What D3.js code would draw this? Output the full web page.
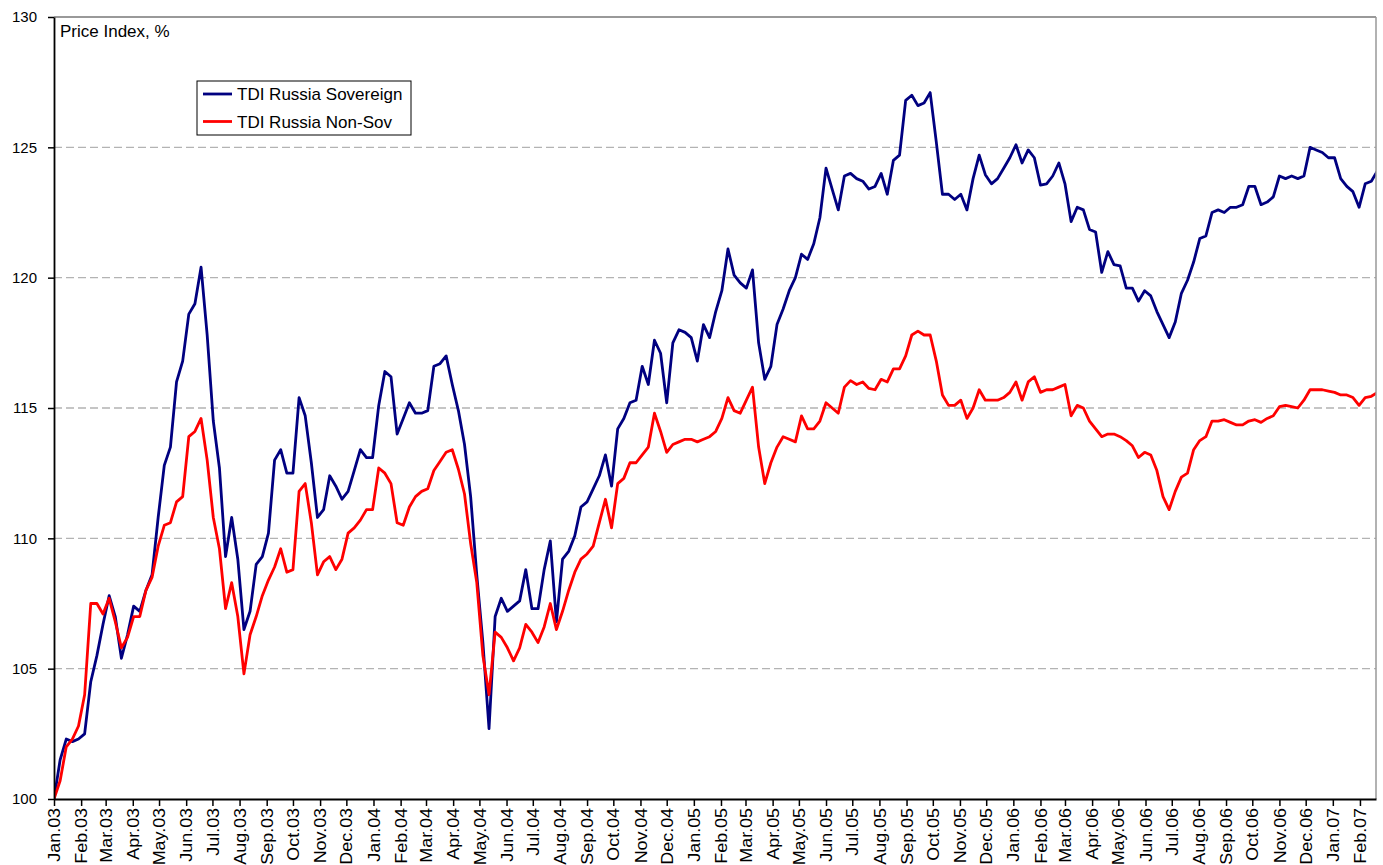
<!DOCTYPE html>
<html>
<head>
<meta charset="utf-8">
<script src="https://cdn.jsdelivr.net/npm/d3@7"></script>
<style>
    body { margin: 0; background: #fff; }
    text { font-family: Arial, "Liberation Sans", sans-serif; fill: #000; }
</style>
</head>
<body>
<div class="chart-container"></div>
<script>
// weekly closes, first point = 1 Jan 2003
var startDate = new Date(2003, 0, 1);
var endDate = new Date(2007, 1, 19, 8);
var seriesNames = ['TDI Russia Sovereign', 'TDI Russia Non-Sov'];
var seriesColors = ['#000080', '#ff0000'];
var yTicks = [100, 105, 110, 115, 120, 125, 130];

var sovereign = [
    100.0, 101.5, 102.3, 102.2, 102.3, 102.5, 104.5, 105.5, 106.7, 107.8,
    107.0, 105.4, 106.3, 107.4, 107.2, 108.0, 108.6, 110.8, 112.8, 113.5,
    116.0, 116.8, 118.6, 119.0, 120.4, 117.8, 114.5, 112.7, 109.3, 110.8,
    109.2, 106.5, 107.2, 109.0, 109.3, 110.2, 113.0, 113.4, 112.5, 112.5,
    115.4, 114.7, 112.9, 110.8, 111.1, 112.4, 112.0, 111.5, 111.8, 112.6,
    113.4, 113.1, 113.1, 115.1, 116.4, 116.2, 114.0, 114.6, 115.2, 114.8,
    114.8, 114.9, 116.6, 116.7, 117.0, 115.9, 114.9, 113.6, 111.6, 108.6,
    106.0, 102.7, 107.0, 107.7, 107.2, 107.4, 107.6, 108.8, 107.3, 107.3,
    108.8, 109.9, 106.8, 109.2, 109.5, 110.1, 111.2, 111.4, 111.9, 112.4,
    113.2, 112.0, 114.2, 114.6, 115.2, 115.3, 116.6, 115.9, 117.6, 117.1,
    115.2, 117.5, 118.0, 117.9, 117.7, 116.8, 118.2, 117.7, 118.7, 119.5,
    121.1, 120.1, 119.8, 119.6, 120.3, 117.5, 116.1, 116.6, 118.2, 118.8,
    119.5, 120.0, 120.9, 120.7, 121.3, 122.3, 124.2, 123.4, 122.6, 123.9,
    124.0, 123.8, 123.7, 123.4, 123.5, 124.0, 123.2, 124.5, 124.7, 126.8,
    127.0, 126.6, 126.7, 127.1, 125.2, 123.2, 123.2, 123.0, 123.2, 122.6,
    123.8, 124.7, 123.95, 123.6, 123.8, 124.2, 124.6, 125.1, 124.4, 124.9,
    124.6, 123.55, 123.6, 123.9, 124.4, 123.6, 122.15, 122.7, 122.6, 121.85,
    121.75, 120.2, 121.0, 120.5, 120.45, 119.6, 119.6, 119.1, 119.5, 119.3,
    118.7, 118.2, 117.7, 118.3, 119.4, 119.9, 120.6, 121.5, 121.6, 122.5,
    122.6, 122.5, 122.7, 122.7, 122.8, 123.5, 123.5, 122.8, 122.9, 123.1,
    123.9, 123.8, 123.9, 123.8, 123.9, 125.0, 124.9, 124.8, 124.6, 124.6,
    123.8, 123.5, 123.3, 122.7, 123.6, 123.7, 124.1
];

var nonSov = [
    100.0, 100.7, 102.0, 102.3, 102.8, 104.0, 107.5, 107.5, 107.1, 107.7,
    106.8, 105.8, 106.2, 107.0, 107.0, 108.0, 108.5, 109.7, 110.5, 110.6,
    111.4, 111.6, 113.9, 114.1, 114.6, 113.0, 110.8, 109.6, 107.3, 108.3,
    107.0, 104.8, 106.3, 107.0, 107.8, 108.4, 108.9, 109.6, 108.7, 108.8,
    111.8, 112.1, 110.6, 108.6, 109.1, 109.3, 108.8, 109.2, 110.2, 110.4,
    110.7, 111.1, 111.1, 112.7, 112.5, 112.1, 110.6, 110.5, 111.2, 111.6,
    111.8, 111.9, 112.6, 112.95, 113.3, 113.4, 112.65, 111.7, 109.8, 108.3,
    105.5, 104.0, 106.4, 106.2, 105.8, 105.3, 105.8, 106.7, 106.4, 106.0,
    106.6, 107.5, 106.5, 107.2, 108.0, 108.7, 109.2, 109.4, 109.7, 110.6,
    111.5, 110.4, 112.1, 112.3, 112.9, 112.9, 113.2, 113.5, 114.8, 114.1,
    113.3, 113.6, 113.7, 113.8, 113.8, 113.7, 113.8, 113.9, 114.1, 114.6,
    115.4, 114.9, 114.8, 115.3, 115.8, 113.5, 112.1, 112.9, 113.5, 113.9,
    113.8, 113.7, 114.7, 114.2, 114.2, 114.5, 115.2, 115.0, 114.8, 115.8,
    116.05, 115.9, 116.0, 115.75, 115.7, 116.1, 116.0, 116.5, 116.5, 117.0,
    117.8, 117.95, 117.8, 117.8, 116.8, 115.5, 115.1, 115.1, 115.3, 114.6,
    115.0, 115.7, 115.3, 115.3, 115.3, 115.4, 115.6, 116.0, 115.3, 116.0,
    116.2, 115.6, 115.7, 115.7, 115.8, 115.9, 114.7, 115.1, 115.0, 114.5,
    114.2, 113.9, 114.0, 114.0, 113.9, 113.75, 113.55, 113.1, 113.3, 113.2,
    112.6, 111.6, 111.1, 111.8, 112.35, 112.5, 113.4, 113.75, 113.9, 114.5,
    114.5, 114.55, 114.45, 114.35, 114.35, 114.5, 114.55, 114.45, 114.6, 114.7,
    115.05, 115.1, 115.05, 115.0, 115.3, 115.7, 115.7, 115.7, 115.65, 115.6,
    115.5, 115.5, 115.4, 115.1, 115.4, 115.45, 115.6
];

var chart = {
    draw: function () {
        this.defineComponents();
        this.addGrid();
        this.addLines();
        this.addFrame();
        this.addAxises();
        this.addTitle();
        this.addLegend();
    },
    defineComponents: function () {
        this.margin = {top: 17, right: 7, bottom: 66, left: 54};
        this.width = 1383 - this.margin.left - this.margin.right;
        this.height = 865 - this.margin.top - this.margin.bottom;

        this.svg = d3.select('.chart-container')
            .append('svg')
            .attr('width', 1383)
            .attr('height', 865)
            .append('g')
            .attr('transform', 'translate(' + this.margin.left + ',' + this.margin.top + ')');

        this.timeScale = d3.scaleTime()
            .domain([startDate, endDate])
            .range([0, this.width]);

        this.valueScale = d3.scaleLinear()
            .domain([100, 130])
            .range([this.height, 0]);

        this.series = [sovereign, nonSov].map(function (values) {
            return values.map(function (v, i) {
                return {date: d3.timeDay.offset(startDate, i * 7), value: v};
            });
        });

        this.svg.append('clipPath')
            .attr('id', 'plot-clip')
            .append('rect')
            .attr('width', this.width)
            .attr('height', this.height);
    },
    addGrid: function () {
        var that = this;
        this.svg.selectAll('.grid')
            .data(yTicks.slice(1, -1))
            .enter()
            .append('line')
            .attr('x1', 0)
            .attr('x2', this.width)
            .attr('y1', function (d) { return that.valueScale(d); })
            .attr('y2', function (d) { return that.valueScale(d); })
            .attr('stroke', '#b3b3b3')
            .attr('stroke-width', 1.3)
            .attr('stroke-dasharray', '8,4');
    },
    addLines: function () {
        var that = this;
        var line = d3.line()
            .x(function (d) { return that.timeScale(d.date); })
            .y(function (d) { return that.valueScale(d.value); });

        this.svg.append('g')
            .attr('clip-path', 'url(#plot-clip)')
            .selectAll('path')
            .data(this.series)
            .enter()
            .append('path')
            .attr('fill', 'none')
            .attr('stroke', function (d, i) { return seriesColors[i]; })
            .attr('stroke-width', 2.8)
            .attr('stroke-linejoin', 'round')
            .attr('d', line);
    },
    addFrame: function () {
        this.svg.append('line')
            .attr('x1', 0).attr('x2', this.width)
            .attr('y1', 0).attr('y2', 0)
            .attr('stroke', '#777')
            .attr('stroke-width', 1.5);
        this.svg.append('line')
            .attr('x1', this.width).attr('x2', this.width)
            .attr('y1', 0).attr('y2', this.height)
            .attr('stroke', '#999')
            .attr('stroke-width', 1.5);
    },
    addAxises: function () {
        var xAxis = d3.axisBottom(this.timeScale)
            .ticks(d3.timeMonth.every(1))
            .tickFormat(d3.timeFormat('%b.%y'))
            .tickSize(7)
            .tickSizeOuter(0);

        var gx = this.svg.append('g')
            .attr('transform', 'translate(0,' + this.height + ')')
            .call(xAxis);
        // labels in the original are a little stretched along their length
        gx.selectAll('text')
            .attr('transform', 'rotate(-90) scale(1.12,1)')
            .attr('text-anchor', 'end')
            .attr('x', -8)
            .attr('y', 0)
            .attr('dy', '0.35em')
            .style('font-size', '16px');

        var yAxis = d3.axisLeft(this.valueScale)
            .tickValues(yTicks)
            .tickSize(6)
            .tickPadding(11)
            .tickSizeOuter(0);

        var gy = this.svg.append('g').call(yAxis);
        gy.selectAll('text').style('font-size', '15px');

        [gx, gy].forEach(function (g) {
            g.select('.domain').attr('stroke', '#000').attr('stroke-width', 1.8);
            g.selectAll('.tick line').attr('stroke', '#000').attr('stroke-width', 1.5);
        });
    },
    addTitle: function () {
        this.svg.append('text')
            .attr('x', 6)
            .attr('y', 19.5)
            .style('font-size', '17px')
            .text('Price Index, %');
    },
    addLegend: function () {
        var legend = this.svg.append('g')
            .attr('transform', 'translate(143,64)');

        legend.append('rect')
            .attr('width', 214)
            .attr('height', 54)
            .attr('fill', '#fff')
            .attr('stroke', '#000')
            .attr('stroke-width', 1);

        var rows = legend.selectAll('.legend-row')
            .data(seriesNames)
            .enter()
            .append('g')
            .attr('transform', function (d, i) { return 'translate(0,' + (13 + i * 27.5) + ')'; });

        rows.append('line')
            .attr('x1', 6).attr('x2', 35)
            .attr('stroke', function (d, i) { return seriesColors[i]; })
            .attr('stroke-width', 2.8);

        rows.append('text')
            .attr('x', 40)
            .attr('y', 6.3)
            .style('font-size', '17px')
            .text(function (d) { return d; });
    }
};

chart.draw();
</script>
</body>
</html>
